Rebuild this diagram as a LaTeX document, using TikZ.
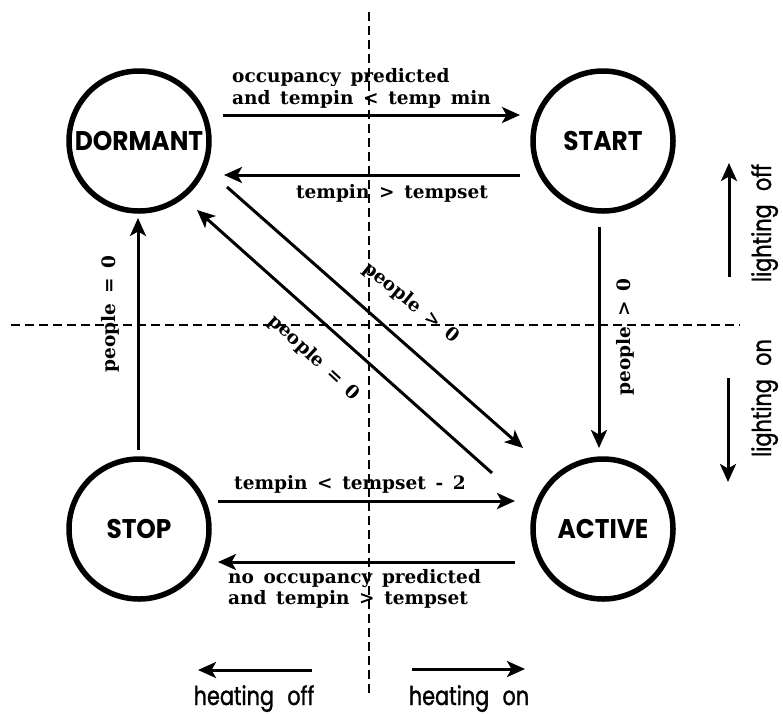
\documentclass[tikz,border=0pt]{standalone}
\usepackage{fontspec}
\usetikzlibrary{arrows.meta,calc}
\newfontfamily\statefont[FakeStretch=0.92]{Poppins}
\newfontfamily\condfont[WordSpace=1.5]{DejaVu Serif}
\newfontfamily\keyfont[FakeStretch=0.8,WordSpace=2.4,FakeBold=1.2]{Poppins}

\tikzset{
  state/.style={circle, draw, line width=5.5pt, minimum size=140pt,
    inner sep=0pt, outer sep=0pt,
    font=\statefont\bfseries\fontsize{27}{31}\selectfont},
  trans/.style={line width=3pt, -{Stealth[length=18pt,width=16pt,inset=4.5pt]}},
  cond/.style={inner sep=0pt, align=left,
    font=\condfont\bfseries\fontsize{18.5}{21.5}\selectfont},
  keytext/.style={inner sep=0pt, font=\keyfont\fontsize{26}{30}\selectfont},
  divider/.style={line width=2.2pt, dash pattern=on 9pt off 5pt},
}

\begin{document}
\begin{tikzpicture}[x=1pt,y=-1pt]
\useasboundingbox (0,0) rectangle (783,713);

% quadrant dividers
\draw[divider] (369,12) -- (369,693);
\draw[divider] (11,325) -- (740,325);

% states
\node[state] (dormant) at (139,141) {DORMANT};
\node[state] (start)   at (603,141) {START};
\node[state] (stop)    at (139,529) {STOP};
\node[state] (active)  at (603,529) {ACTIVE};

% transitions along the top
\draw[trans, shorten <=14pt, shorten >=13pt]
  ([yshift=26pt]dormant.east) -- ([yshift=26pt]start.west);
\draw[trans, shorten <=13pt, shorten >=15pt]
  ([yshift=-34pt]start.west) -- ([yshift=-34pt]dormant.east);

% transitions along the bottom
\draw[trans, shorten <=9pt, shorten >=18pt]
  ([yshift=28pt]stop.east) -- ([yshift=28pt]active.west);
\draw[trans, shorten <=18pt, shorten >=9pt]
  ([yshift=-33pt]active.west) -- ([yshift=-33pt]stop.east);

% vertical transitions
\draw[trans, shorten <=9pt, shorten >=7pt]
  ([xshift=-1pt]stop.north) -- ([xshift=-1pt]dormant.south);
\draw[trans, shorten <=16pt, shorten >=11pt]
  ([xshift=-4pt]start.south) -- ([xshift=-4pt]active.north);

% diagonal transitions
\draw[trans] ($(dormant.center)+(88,46)$) -- ($(active.center)+(-80,-81)$);
\draw[trans] ($(active.center)+(-111,-56)$) -- ($(dormant.center)+(58,69)$);

% transition conditions
\node[cond, anchor=north west] (c1) at (232,68.5)
  {occupancy predicted\\and tempin < temp min};
\node[cond, anchor=base] (c2) at (392,198) {tempin > tempset};
\node[cond, anchor=base] (c3) at (350,489) {tempin < tempset - 2};
\node[cond, anchor=north west] (c4) at (228,569)
  {no occupancy predicted\\and tempin > tempset};
\node[cond, rotate=90] (c5) at (110,314) {people = 0};
\node[cond, rotate=90] (c6) at (625,337) {people > 0};
\node[cond, rotate=-39] (c7) at (411,303) {people > 0};
\node[cond, rotate=-43] (c8) at (314,358) {people = 0};

% heating and lighting keys
\draw[trans] (312,670) -- (198,670);
\draw[trans] (412,669) -- (525,669);
\node[keytext, anchor=base] (hoff) at (254,705) {heating off};
\node[keytext, anchor=base] (hon)  at (469,705) {heating on};

\draw[trans] (729,277) -- (729,163);
\draw[trans] (728,378) -- (728,482);
\node[keytext, anchor=base, rotate=90] (loff) at (771,223) {lighting off};
\node[keytext, anchor=base, rotate=90] (lon)  at (771,398) {lighting on};
\end{tikzpicture}
\end{document}
